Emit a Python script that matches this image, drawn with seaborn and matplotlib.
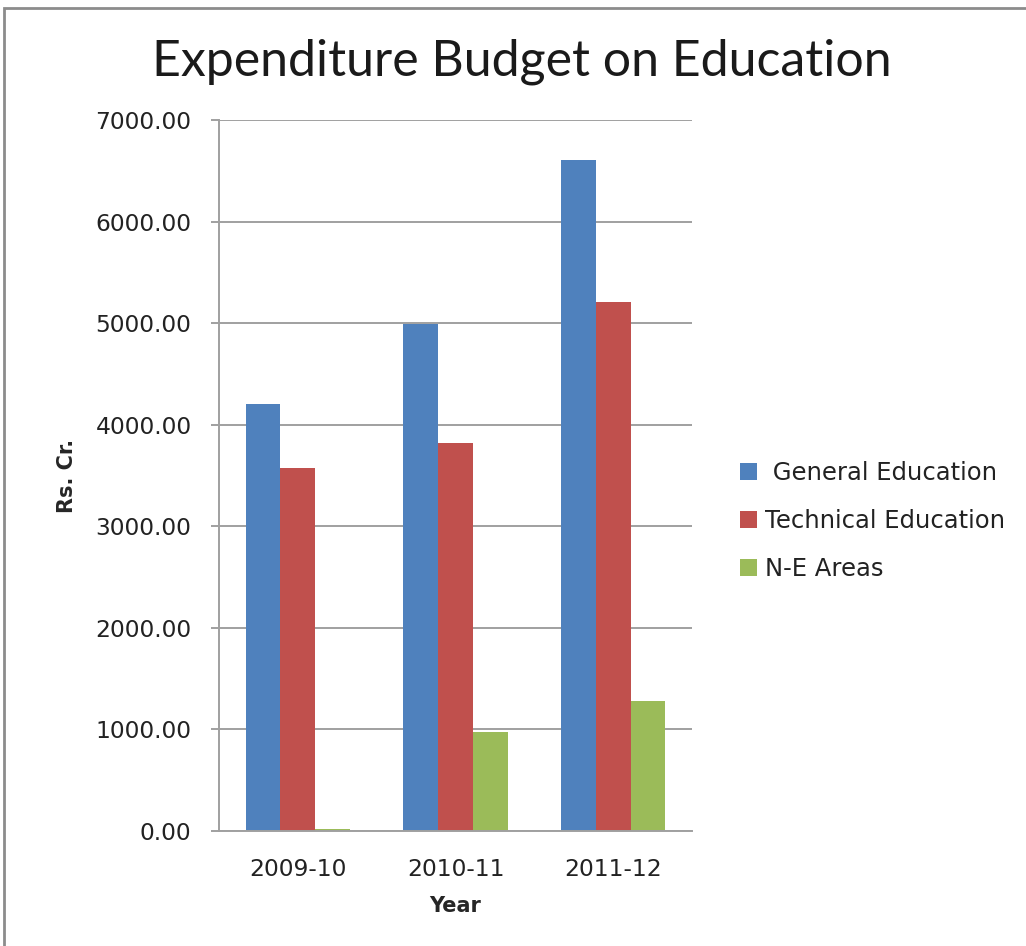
import matplotlib
matplotlib.use("Agg")
import matplotlib.pyplot as plt
import seaborn as sns
import pandas as pd
from matplotlib.patches import Rectangle

years = ["2009-10", "2010-11", "2011-12"]
general = [4205, 4995, 6607]
technical = [3574, 3823, 5212]
ne_areas = [15, 975, 1278]
series_names = [" General Education", "Technical Education", "N-E Areas"]
colors = ["#4F81BD", "#C0504D", "#9BBB59"]

rows = []
for name, vals in zip(series_names, [general, technical, ne_areas]):
    for y, v in zip(years, vals):
        rows.append({"Year": y, "Series": name, "Value": v})
df = pd.DataFrame(rows)

sns.set_theme(style="white")
plt.rcParams['font.family'] = ['DejaVu Sans']

W, H = 1026, 946
fig = plt.figure(figsize=(W / 100, H / 100), dpi=100)
ax_l, ax_r, ax_t, ax_b = 219, 692.2, 120.2, 830.7
ax = fig.add_axes([ax_l / W, 1 - ax_b / H, (ax_r - ax_l) / W, (ax_b - ax_t) / H])

sns.barplot(data=df, x="Year", y="Value", hue="Series", palette=colors,
            width=0.661, ax=ax, saturation=1, edgecolor="none", linewidth=0)

ax.set_ylim(0, 7000)
ax.set_yticks(range(0, 7001, 1000))
ax.set_yticklabels([f"{v:.2f}" for v in range(0, 7001, 1000)])
gray = "#a0a0a0"
ax.yaxis.grid(True, color=gray, linewidth=1.4)
ax.set_axisbelow(True)
for s in ["top", "right"]:
    ax.spines[s].set_visible(False)
for s in ["left", "bottom"]:
    ax.spines[s].set_color(gray)
    ax.spines[s].set_linewidth(1.4)
ax.tick_params(axis="y", left=True, length=5.8, width=1.4, color=gray,
               labelsize=16.8, pad=14, labelcolor="#222222")
ax.tick_params(axis="x", bottom=False, labelsize=16.8, pad=14, labelcolor="#222222")
ax.set_xlabel("Year", fontsize=15, fontweight="bold", va="top")
ax.xaxis.set_label_coords(0.5, -0.092)
ax.set_ylabel("Rs. Cr.", fontsize=15, fontweight="bold")
ax.yaxis.set_label_coords(-0.30, 0.5)

fig.text(0.509, 1 - 62 / H, "Expenditure Budget on Education",
         ha="center", va="center", fontsize=36, color="#1a1a1a",
         family=["Lato", "DejaVu Sans"])

leg = ax.legend(loc="center left", bbox_to_anchor=(740 / W, 1 - 521 / H),
                bbox_transform=fig.transFigure, frameon=False,
                fontsize=17.5, handlelength=0.7, handleheight=0.7,
                handletextpad=0.32, labelspacing=1.0, borderpad=0,
                borderaxespad=0)
leg.set_title(None)
for t in leg.get_texts():
    t.set_color("#222222")

fig.patches.append(Rectangle((4 / W, -0.1), 1.2, 0.1 + (H - 8) / H,
                             transform=fig.transFigure, fill=False,
                             edgecolor="#8c8c8c", linewidth=2))

fig.savefig("out.png", dpi=100)
